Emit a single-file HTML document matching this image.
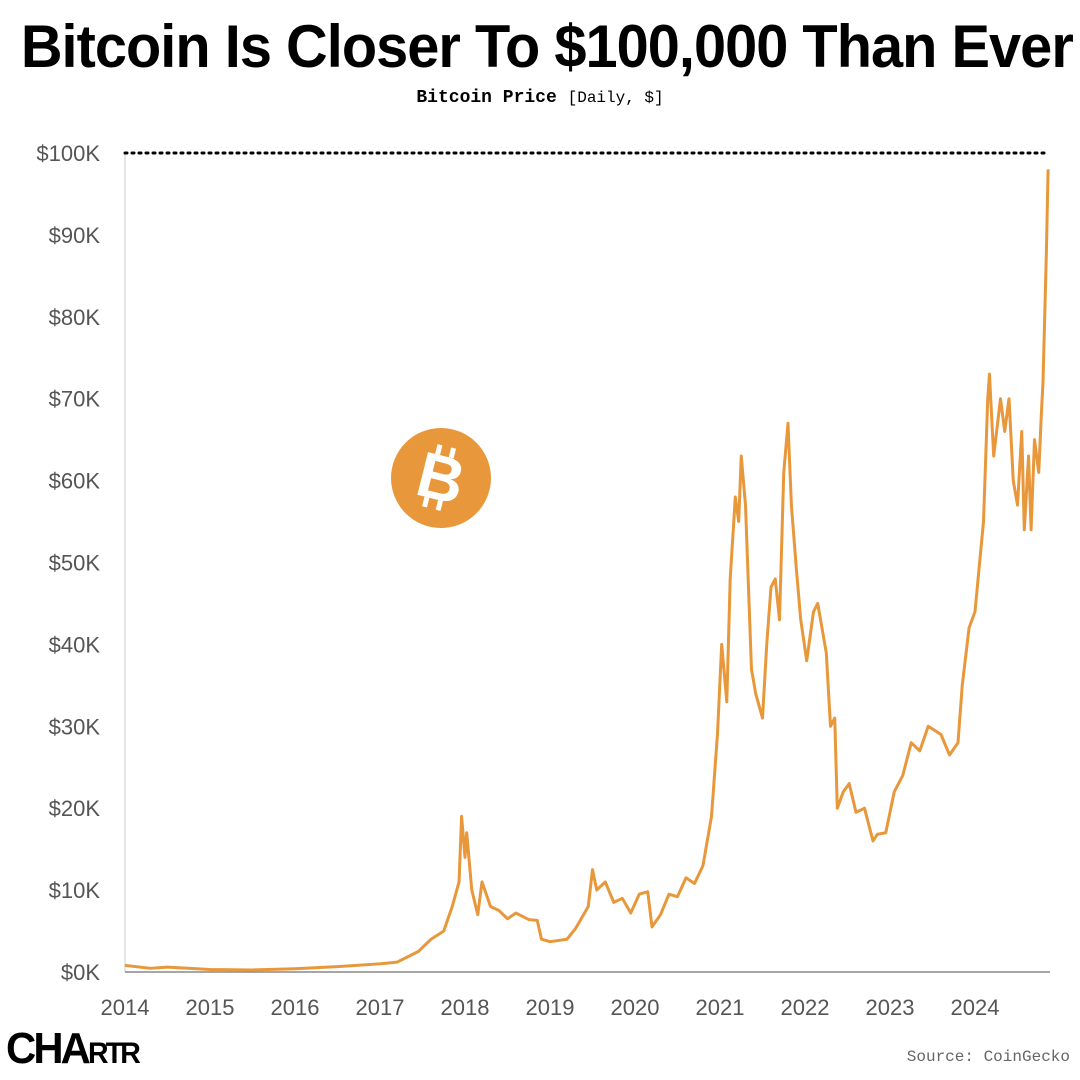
<!DOCTYPE html>
<html><head><meta charset="utf-8"><style>
body{margin:0;width:1080px;height:1080px;background:#fff;overflow:hidden;font-family:"Liberation Sans",sans-serif}
#title{position:absolute;left:0;top:12px;width:1080px;text-align:center;font-family:"Liberation Sans Narrow","Liberation Sans",sans-serif;font-weight:bold;font-size:60px;letter-spacing:-1px;color:#000;white-space:nowrap}
#sub{position:absolute;left:0;top:88px;width:1080px;text-align:center;font-family:"Liberation Mono",monospace;font-size:18px;color:#000}
</style></head><body>
<div id="title"><span id="tt" style="display:inline-block;transform-origin:center;">Bitcoin Is Closer To $100,000 Than Ever</span></div>
<div id="sub"><b>Bitcoin Price</b> <span style="font-size:16px">[Daily, $]</span></div>
<svg id="chart" width="1080" height="1080" style="position:absolute;left:0;top:0"></svg>
<div style="position:absolute;left:6px;top:1024px;font-family:'Liberation Sans',sans-serif;font-weight:900;font-size:44px;letter-spacing:-3px;color:#000;transform:scaleX(0.95);transform-origin:left">CHA<span style="font-size:30px">RTR</span></div>
<div style="position:absolute;right:10px;top:1048px;font-family:'Liberation Mono',monospace;font-size:16px;color:#666">Source: CoinGecko</div>
<script>
const years=[2014.0,2014.3,2014.5,2015.0,2015.5,2016.0,2016.5,2017.0,2017.2,2017.45,2017.6,2017.75,2017.85,2017.93,2017.96,2018.0,2018.02,2018.08,2018.15,2018.2,2018.3,2018.4,2018.5,2018.6,2018.75,2018.85,2018.9,2019.0,2019.2,2019.3,2019.45,2019.5,2019.55,2019.65,2019.75,2019.85,2019.95,2020.05,2020.15,2020.2,2020.3,2020.4,2020.5,2020.6,2020.7,2020.8,2020.9,2020.97,2021.02,2021.08,2021.12,2021.18,2021.22,2021.25,2021.3,2021.37,2021.42,2021.5,2021.55,2021.6,2021.65,2021.7,2021.75,2021.8,2021.84,2021.9,2021.95,2022.02,2022.1,2022.15,2022.25,2022.3,2022.35,2022.38,2022.45,2022.52,2022.6,2022.7,2022.8,2022.85,2022.95,2023.05,2023.15,2023.25,2023.35,2023.45,2023.6,2023.7,2023.8,2023.85,2023.93,2024.0,2024.1,2024.15,2024.17,2024.22,2024.3,2024.35,2024.4,2024.45,2024.5,2024.55,2024.58,2024.63,2024.66,2024.7,2024.75,2024.78,2024.8,2024.84,2024.86];
const prices=[0.8,0.45,0.6,0.3,0.25,0.4,0.65,1.0,1.2,2.5,4,5,8,11,19,14,17,10,7,11,8,7.5,6.5,7.2,6.4,6.3,4,3.7,4,5.3,8,12.5,10,11,8.5,9,7.2,9.5,9.8,5.5,7,9.5,9.2,11.5,10.8,13,19,29,40,33,48,58,55,63,57,37,34,31,40,47,48,43,61,67,57,49,43,38,44,45,39,30,31,20,22,23,19.5,20,16,16.8,17,22,24,28,27,30,29,26.5,28,35,42,44,55,70,73,63,70,66,70,60,57,66,54,63,54,65,61,68,72,88,98];
const yTicks=[0,10,20,30,40,50,60,70,80,90,100];
const xTicks=[2014,2015,2016,2017,2018,2019,2020,2021,2022,2023,2024];
const X=y=>125+(y-2014)*85, Y=v=>972-v*8.19;
const svg=document.getElementById('chart'),NS='http://www.w3.org/2000/svg';
function mk(t,a){const e=document.createElementNS(NS,t);for(const k in a)e.setAttribute(k,a[k]);svg.appendChild(e);return e;}
let ax=mk('line',{x1:125,y1:Y(100),x2:125,y2:972,stroke:'#ccc','stroke-width':1});

let bx=mk('line',{x1:125,y1:972,x2:1050,y2:972,stroke:'#888','stroke-width':1.5});

yTicks.forEach(v=>{const t=mk('text',{x:100,y:Y(v)+8,'text-anchor':'end','font-size':22,fill:'#555','font-family':'Liberation Sans, sans-serif'});t.textContent='$'+v+'K';
});
xTicks.forEach(v=>{const t=mk('text',{x:X(v),y:1015,'text-anchor':'middle','font-size':22,fill:'#555','font-family':'Liberation Sans, sans-serif'});t.textContent=v;
});
let ref=mk('line',{x1:125,y1:Y(100),x2:1048,y2:Y(100),stroke:'#000','stroke-width':3,'stroke-dasharray':'2 5','stroke-linecap':'round'});

let p=mk('polyline',{points:years.map((y,i)=>X(y)+','+Y(prices[i])).join(' '),fill:'none',stroke:'#e8973a','stroke-width':3,'stroke-linejoin':'round'});

let c=mk('circle',{cx:441,cy:478,r:50,fill:'#e8973a'});

let b=mk('text',{x:441,y:500,'text-anchor':'middle','font-size':64,'font-weight':'bold',fill:'#fff','font-family':'Liberation Sans, sans-serif',transform:'rotate(14 441 478)'});b.textContent='B';

[[432,446,432,456],[446,446,446,456],[432,500,432,510],[446,500,446,510]].forEach(l=>{const e=mk('line',{x1:l[0],y1:l[1],x2:l[2],y2:l[3],stroke:'#fff','stroke-width':5,transform:'rotate(14 441 478)'});
});
const tt=document.getElementById('tt');const w=tt.getBoundingClientRect().width;tt.style.transform='scaleX('+(1052/w)+')';
</script>
</body></html>
